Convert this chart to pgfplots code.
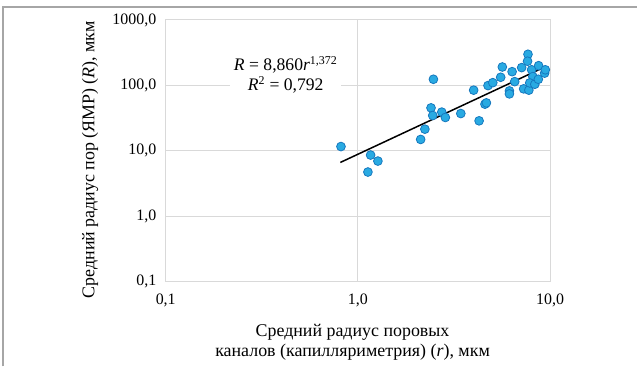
\documentclass[border=0pt]{standalone}
\usepackage{pgfplots}
\pgfplotsset{compat=1.18}
\usepackage{fontspec}
\setmainfont{Liberation Serif}
\definecolor{gridc}{RGB}{217,217,217}
\definecolor{ptfill}{RGB}{41,170,226}
\definecolor{ptdraw}{RGB}{22,120,190}
\definecolor{framec}{RGB}{166,166,166}
\begin{document}
\fontsize{16}{18}\selectfont
\begin{tikzpicture}
\path (0bp,0bp) rectangle (638bp,367bp);
\draw[framec, line width=2bp] (3.5bp,0bp) -- (3.5bp,360bp) -- (638bp,360bp);
\begin{axis}[
  at={(166bp,85bp)}, anchor=south west,
  scale only axis, width=385bp, height=262bp,
  xmode=log, ymode=log,
  xmin=0.1, xmax=10, ymin=0.1, ymax=1000,
  xtick={0.1,1,10}, xticklabels={0{,}1,1{,}0,10{,}0},
  ytick={0.1,1,10,100,1000}, yticklabels={0{,}1,1{,}0,10{,}0,100{,}0,1000{,}0},
  minor tick num=0, minor xtick={}, minor ytick={},
  tick style={draw=none},
  grid=major, major grid style={draw=gridc, line width=1bp},
  axis line style={draw=gridc, line width=1bp},
  tick label style={font=\fontsize{16}{18}\selectfont},
  yticklabel style={anchor=east, xshift=-4bp},
  xticklabel style={yshift=-7bp},
  xlabel={Средний радиус поровых\\каналов (капилляриметрия) (\textit{r}), мкм},
  xlabel style={font=\fontsize{18}{20}\selectfont, align=center, at={(axis description cs:0.486,-0.233)}, anchor=center},
  ylabel={Средний радиус пор (ЯМР) (\textit{R}), мкм},
  ylabel style={font=\fontsize{18}{20}\selectfont, at={(axis description cs:-0.197,0.466)}, anchor=center},
  clip=false,
]
\addplot[only marks, mark=*, mark size=4.4bp, mark options={fill=ptfill, draw=ptdraw, line width=0.8bp}] table {
x y
0.816 11.6
1.164 8.6
1.27 6.96
1.127 4.73
2.47 124
2.12 14.9
2.23 21.4
2.40 45.3
2.45 34.6
2.73 39
2.85 32.3
3.43 37.1
4.27 28.7
4.0 84.5
4.58 51.6
4.66 54
4.75 99.3
5.03 110
5.53 133
5.64 191
6.14 82.4
6.14 74.1
6.34 162
6.54 114
7.11 187
7.28 88.5
7.67 299
7.63 234
7.75 84.5
8.01 173
8.13 136
7.83 109
8.32 104
8.71 200
8.68 124
9.36 154
9.44 173
};
\addplot[black, line width=1.5bp] coordinates {(0.81,6.63) (9.4,191.7)};
\node[fill=white, align=center, inner xsep=4bp, inner ysep=1bp, font=\fontsize{17.7}{19.5}\selectfont] at (axis description cs:0.312,0.79)
  {\textit{R} = 8,860\textit{r}\textsuperscript{\fontsize{12}{12}\selectfont 1,372}\\\textit{R}\textsuperscript{\fontsize{12}{12}\selectfont 2} = 0,792};
\end{axis}
\end{tikzpicture}
\end{document}
